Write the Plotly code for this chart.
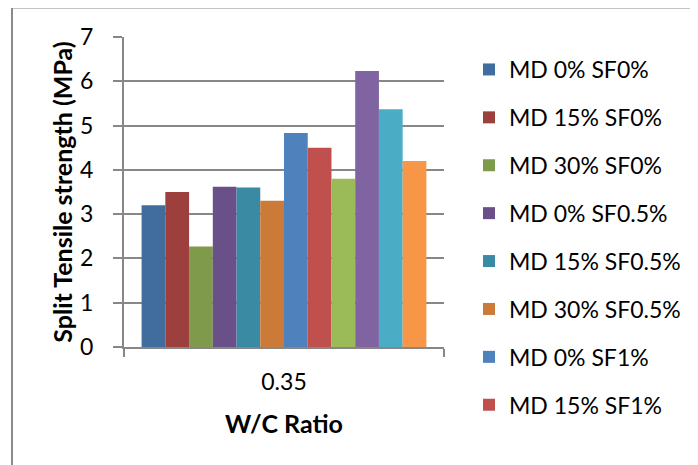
import plotly.graph_objects as go

categories = ["0.35"]
series_names = [
    "MD 0% SF0%", "MD 15% SF0%", "MD 30% SF0%",
    "MD 0% SF0.5%", "MD 15% SF0.5%", "MD 30% SF0.5%",
    "MD 0% SF1%", "MD 15% SF1%", "MD 30% SF1%",
    "MD 0% SF1.5%", "MD 15% SF1.5%", "MD 30% SF1.5%",
]
values = [3.2, 3.5, 2.27, 3.62, 3.6, 3.3, 4.83, 4.5, 3.8, 6.23, 5.37, 4.2]
colors = ["#416C9E", "#9D3F3D", "#7F9A4A", "#6A5088", "#3B8AA3", "#CB7A38",
          "#4F81BD", "#C0504D", "#9BBB59", "#8064A2", "#4BACC6", "#F79646"]
y_ticks = [0, 1, 2, 3, 4, 5, 6, 7]
legend_visible = 8

FONT = "Lato"
FS = 23
TFS = 25
GRAY = "#878787"

fig = go.Figure()
for i, (name, v, c) in enumerate(zip(series_names, values, colors)):
    fig.add_trace(go.Bar(
        x=categories, y=[v], name=name, marker_color=c, marker_line_width=0,
        legendgroup=f"g{i}", showlegend=i < legend_visible,
    ))

# page offset (body margin) of 8 px
OFF = 8
PW, PH = 698, 465
W, H = PW - OFF, PH - OFF
# plot area in page pixels: x 124..444, y 37..347
L, R, T, B = 124 - OFF, PW - 444, 37 - OFF, PH - 347
pw, ph = W - L - R, H - T - B

def px_x(x):  # page pixel -> paper
    return (x - OFF - L) / pw

def px_y(y):
    return (H - B - (y - OFF)) / ph

fig.update_layout(
    width=W, height=H,
    margin=dict(l=L, r=R, t=T, b=B, pad=0, autoexpand=False),
    paper_bgcolor="white", plot_bgcolor="white",
    font=dict(family=FONT, size=FS, color="#000000"),
    barmode="group", bargap=0.11, bargroupgap=0,
    showlegend=True,
    legend=dict(
        x=px_x(469), y=px_y(48), xanchor="left", yanchor="top",
        font=dict(family=FONT, size=FS), traceorder="grouped",
        tracegroupgap=15, bgcolor="rgba(0,0,0,0)", maxheight=460,
    ),
    xaxis=dict(
        automargin=False,
        showline=True, linecolor=GRAY, linewidth=2,
        ticks="outside", tickson="boundaries", ticklen=8, tickcolor=GRAY, tickwidth=2,
        showgrid=False, ticklabelstandoff=13,
        title=dict(text="<b>W/C Ratio</b>", font=dict(family=FONT, size=TFS), standoff=22),
    ),
    yaxis=dict(
        automargin=False,
        range=[0, 7], tickvals=y_ticks, showline=True, linecolor=GRAY, linewidth=2,
        ticks="outside", ticklen=9, tickcolor=GRAY, tickwidth=2,
        showgrid=True, gridcolor=GRAY, gridwidth=2, zeroline=False,
        ticklabelstandoff=15,
        title=dict(text="<b>Split Tensile strength (MPa)</b>", font=dict(family=FONT, size=TFS), standoff=0),
    ),
    shapes=[
        dict(type="line", xref="paper", yref="paper",
             x0=px_x(12), x1=px_x(12), y0=px_y(470), y1=px_y(7.5),
             line=dict(color="#8a8a8a", width=2)),
        dict(type="line", xref="paper", yref="paper",
             x0=px_x(12), x1=px_x(720), y0=px_y(7.5), y1=px_y(7.5),
             line=dict(color="#8a8a8a", width=2)),
    ],
)

fig.write_html("out.html")
